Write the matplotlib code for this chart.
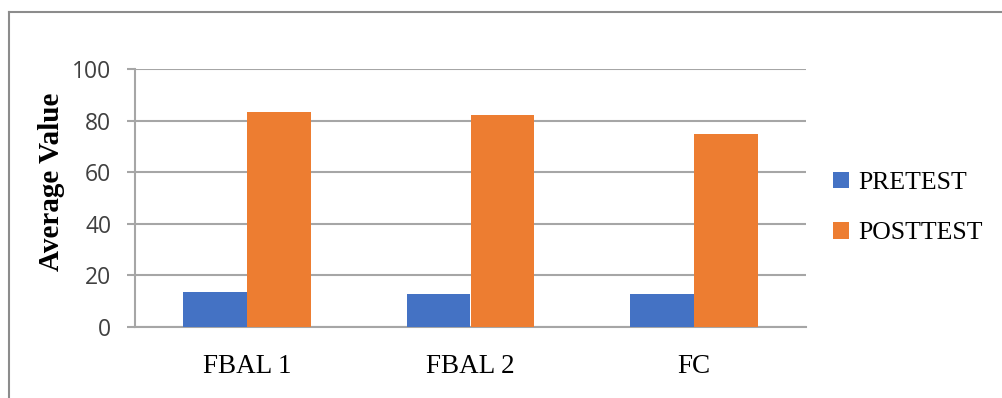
import matplotlib
matplotlib.use("Agg")
import matplotlib.pyplot as plt
from matplotlib.lines import Line2D
from matplotlib.patches import Patch
import numpy as np

categories = ["FBAL 1", "FBAL 2", "FC"]
pretest = [13.4, 12.8, 12.8]
posttest = [83.3, 82.2, 74.7]
series_names = ["PRETEST", "POSTTEST"]
yticks = [0, 20, 40, 60, 80, 100]

BLUE = "#4472C4"
ORANGE = "#ED7D31"
GRID = "#a6a6a6"

W, H = 1002, 398
fig = plt.figure(figsize=(W / 100, H / 100), dpi=100)
fig.patch.set_facecolor("white")

ax = fig.add_axes([135 / W, 1 - 326.7 / H, (806 - 135) / W, (326.7 - 69.3) / H])

x = np.arange(len(categories))
bw = 0.286
ax.bar(x - bw / 2, pretest, width=bw, color=BLUE, zorder=3, label=series_names[0])
ax.bar(x + bw / 2, posttest, width=bw, color=ORANGE, zorder=3, label=series_names[1])

ax.set_xlim(-0.5, len(categories) - 0.5)
ax.set_ylim(0, 100)
ax.set_yticks(yticks)
ax.yaxis.grid(True, color=GRID, linewidth=1.5, zorder=0)
ax.set_axisbelow(True)

for s in ["top", "right"]:
    ax.spines[s].set_visible(False)
for s in ["left", "bottom"]:
    ax.spines[s].set_color(GRID)
    ax.spines[s].set_linewidth(1.5)

ax.tick_params(axis="y", length=6, width=1.5, color=GRID, pad=11,
               labelsize=16.5, labelcolor="#404040")
for t in ax.get_yticklabels():
    t.set_fontfamily("Open Sans")

ax.set_xticks(x)
ax.set_xticklabels(categories)
ax.tick_params(axis="x", length=0, pad=20, labelsize=19.5, labelcolor="black")
for t in ax.get_xticklabels():
    t.set_fontfamily("Liberation Serif")

fig.text(51.7 / W, 1 - 182 / H, "Average Value", rotation=90, ha="center", va="center",
         fontsize=21, fontweight="bold", family="Liberation Serif", color="black")

handles = [Patch(facecolor=BLUE), Patch(facecolor=ORANGE)]
fig.legend(handles, series_names, loc="center left",
           bbox_to_anchor=(833 / W, 1 - 208 / H), frameon=False,
           prop={"family": "Liberation Serif", "size": 18.5},
           handlelength=0.62, handleheight=0.62, handletextpad=0.35,
           labelspacing=1.08, borderpad=0, borderaxespad=0)

# outer frame (top and left edges)
ytop = 1 - 11.5 / H
xl = 8.5 / W
fig.add_artist(Line2D([xl, 1], [ytop, ytop], color="#8c8c8c", linewidth=1.5))
fig.add_artist(Line2D([xl, xl], [0, ytop], color="#8c8c8c", linewidth=1.5))

fig.savefig("out.png", dpi=100, facecolor="white")
